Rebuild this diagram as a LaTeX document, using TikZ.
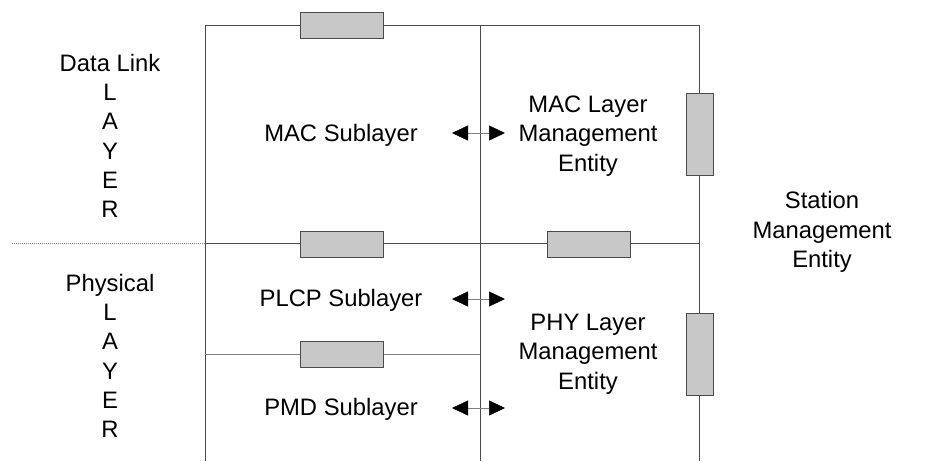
\documentclass[tikz,border=0pt]{standalone}
\usepackage{fontspec}
\setmainfont{Liberation Sans}
\usetikzlibrary{arrows.meta,positioning}
\definecolor{frame}{HTML}{4A4A4A}
\definecolor{sap}{HTML}{C8C8C8}

\begin{document}
\begin{tikzpicture}[x=1pt, y=-1pt,
    sapbox/.style={draw=frame, fill=sap, line width=0.9pt, inner sep=0pt,
      minimum width=83pt, minimum height=26pt},
    sapvbox/.style={sapbox, minimum width=27pt, minimum height=82pt},
    layertext/.style={align=center, font=\fontsize{23.8}{29.3}\selectfont},
    exchange/.style={{Triangle[length=16pt,width=15pt,color=black]}-{Triangle[length=16pt,width=15pt,color=black]},
      draw=gray, line width=0.5pt}]
  \useasboundingbox (0,0) rectangle (933,461);
  % frame of the layers
  \coordinate (tl) at (205,25);
  \coordinate (tm) at (480,25);
  \coordinate (tr) at (699,25);
  \coordinate (bl) at (205,461);
  \coordinate (bm) at (480,461);
  \coordinate (br) at (699,461);
  \coordinate (ml) at (205,243);
  \coordinate (mr) at (699,243);
  \coordinate (dl) at (12,243);
  \coordinate (pl) at (205,354);
  \coordinate (pm) at (480,354);
  \draw[frame, line width=0.9pt] (tl) -- (tr);
  \draw[frame, line width=0.9pt] (tl) -- (bl);
  \draw[frame, line width=0.9pt] (tm) -- (bm);
  \draw[frame, line width=0.9pt] (tr) -- (br);
  \draw[frame, line width=0.9pt] (ml) -- (mr);
  \draw[gray, line width=0.6pt, dash pattern=on 1pt off 1pt] (dl) -- (ml);
  \draw[gray, line width=0.9pt] (pl) -- (pm);
  % service access points
  \node[sapbox] (sapmac) at (341.5,25) {};
  \node[sapbox] (sapphy) at (341.5,244) {};
  \node[sapbox] (sapmlme) at (589,244) {};
  \node[sapbox] (sappmd) at (341.5,354) {};
  \node[sapvbox] (sapsmac) at (699.5,134) {};
  \node[sapvbox] (sapsphy) at (699.5,354.5) {};
  % layer names
  \node[layertext] (dll) at (110,136) {Data Link\\L\\A\\Y\\E\\R};
  \node[layertext] (phl) at (110,356) {Physical\\L\\A\\Y\\E\\R};
  % sublayers
  \node[layertext] (mac) at (341,135) {MAC Sublayer};
  \node[layertext] (plcp) at (341,300) {PLCP Sublayer};
  \node[layertext] (pmd) at (341,409) {PMD Sublayer};
  % management entities
  \node[layertext] (mlme) at (588,136) {MAC Layer\\Management\\Entity};
  \node[layertext] (plme) at (588,354) {PHY Layer\\Management\\Entity};
  \node[layertext] (sme) at (822,232) {Station\\Management\\Entity};
  % interfaces
  \coordinate (macl) at (452,133);
  \coordinate (macr) at (505,133);
  \coordinate (plcpl) at (452,299);
  \coordinate (plcpr) at (505,299);
  \coordinate (pmdl) at (452,408);
  \coordinate (pmdr) at (505,408);
  \draw[exchange] (macl) -- (macr);
  \draw[exchange] (plcpl) -- (plcpr);
  \draw[exchange] (pmdl) -- (pmdr);
\end{tikzpicture}
\end{document}
